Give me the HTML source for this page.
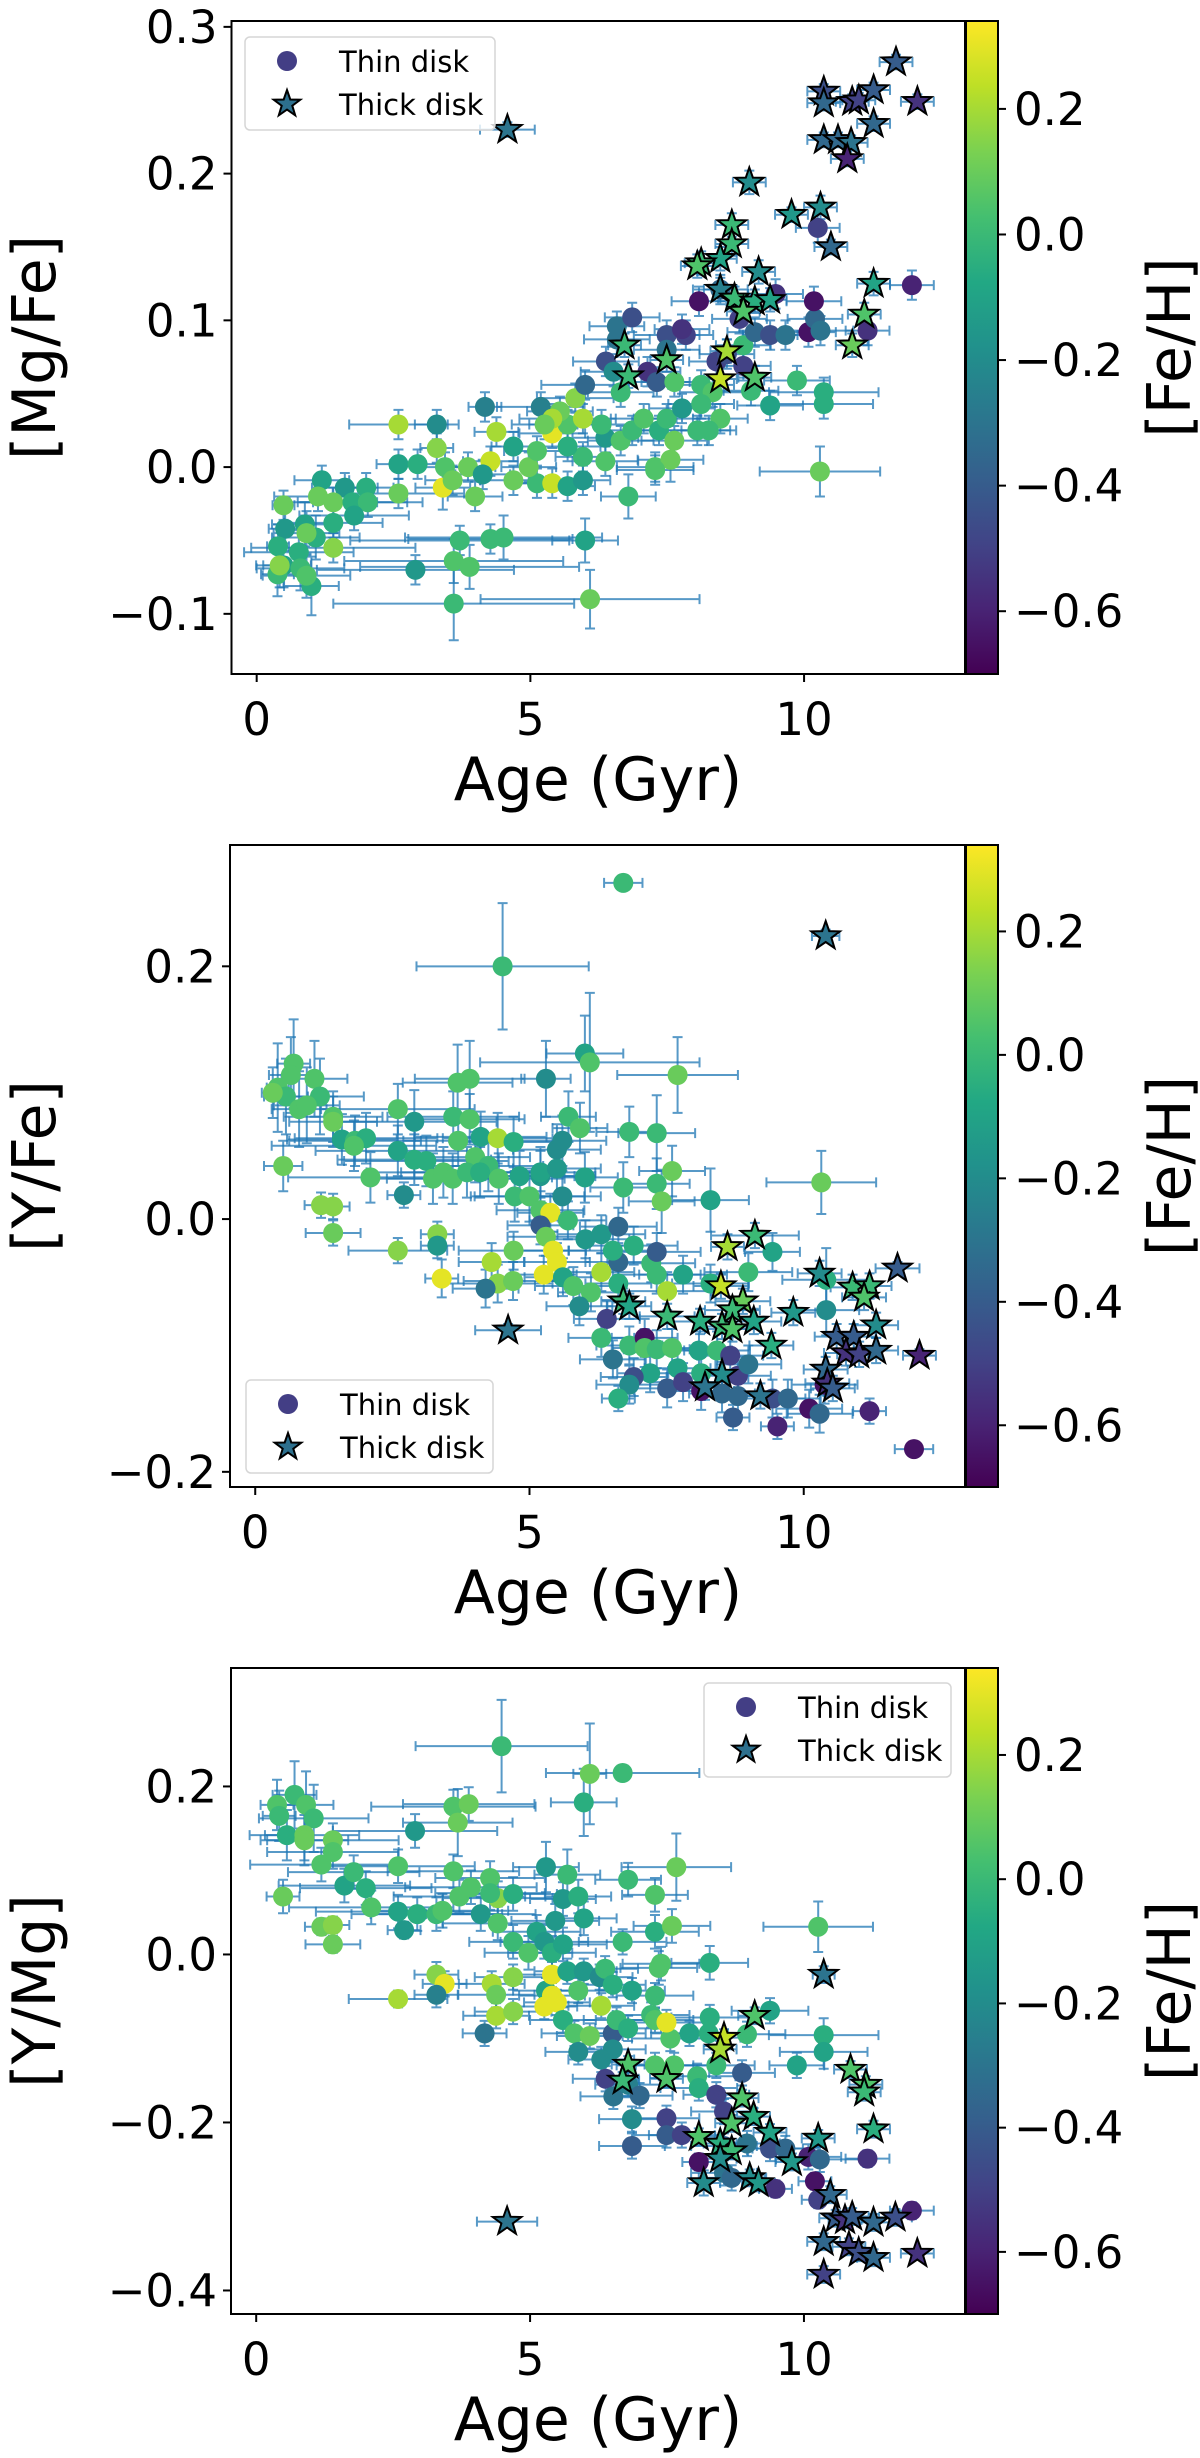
<!DOCTYPE html>
<html><head><meta charset="utf-8"><style>
html,body{margin:0;padding:0;background:#fff;}
svg{display:block;font-family:"DejaVu Sans","Liberation Sans",sans-serif;}
</style></head><body>
<svg id="fig" width="1200" height="2458" viewBox="0 0 1200 2458" xmlns="http://www.w3.org/2000/svg">
<defs>
<linearGradient id="vir" x1="0" y1="1" x2="0" y2="0">
<stop offset="0" stop-color="#440154"/><stop offset="0.1" stop-color="#482475"/><stop offset="0.2" stop-color="#414487"/><stop offset="0.3" stop-color="#355f8d"/><stop offset="0.4" stop-color="#2a788e"/><stop offset="0.5" stop-color="#21918c"/><stop offset="0.6" stop-color="#22a884"/><stop offset="0.7" stop-color="#44bf70"/><stop offset="0.8" stop-color="#7ad151"/><stop offset="0.9" stop-color="#bddf26"/><stop offset="1" stop-color="#fde725"/>
</linearGradient>
</defs>
</svg>
<script>
// ---- data: [age, value, feh, ageErr, valErr] ----
const xTicks=[0,5,10];
const xTickLabels=["0","5","10"];
const cbTicks=[-0.6,-0.4,-0.2,0.0,0.2];
const cbTickLabels=["\u22120.6","\u22120.4","\u22120.2","0.0","0.2"];
const yTicksTop=[-0.1,0,0.1,0.2,0.3];
const yTickLabelsTop=["\u22120.1","0.0","0.1","0.2","0.3"];
const yTicksMid=[-0.2,0,0.2];
const yTickLabelsMid=["\u22120.2","0.0","0.2"];
const yTicksBot=[-0.4,-0.2,0,0.2];
const yTickLabelsBot=["\u22120.4","\u22120.2","0.0","0.2"];
const fehRange=[-0.70,0.34];

const thinTop=[[2.59,0.029,0.2,0.9,0.01],[3.29,0.029,-0.2,0.4,0.01],[3.29,0.013,0.15,0.3,0.01],[4.17,0.041,-0.25,0.3,0.01],[5.19,0.041,-0.25,0.8,0.01],[4.38,0.024,0.2,0.4,0.01],[4.69,0.014,-0.1,0.4,0.01],[4.27,0.004,0.25,0.5,0.01],[2.59,0.002,-0.1,0.4,0.01],[2.94,0.002,-0.05,0.5,0.01],[3.44,0,0.05,0.5,0.01],[3.86,0,0.1,0.5,0.01],[2.59,-0.018,0.1,1.2,0.01],[3.4,-0.014,0.3,0.5,0.015],[3.99,-0.02,0.1,0.5,0.01],[3.58,-0.009,0.1,0.5,0.01],[4.13,-0.005,-0.15,0.5,0.01],[4.69,-0.009,0.1,0.6,0.01],[5.12,-0.011,0.0,0.5,0.01],[5.4,-0.011,0.25,0.6,0.01],[5.68,-0.013,-0.1,0.5,0.01],[5.96,-0.009,-0.15,0.5,0.01],[4.97,0,0.1,0.5,0.01],[5.12,0.011,0.05,0.6,0.01],[5.4,0.023,0.3,0.6,0.01],[5.68,0.029,0.05,0.7,0.01],[5.96,0.033,0.2,0.6,0.01],[5.82,0.047,0.15,0.7,0.01],[5.54,0.038,0.1,0.6,0.01],[5.4,0.033,0.2,0.6,0.01],[5.26,0.029,0.1,0.6,0.01],[5.96,0.007,0.0,0.5,0.01],[5.68,0.014,-0.05,0.6,0.01],[6.37,0.004,0.05,0.6,0.01],[6.37,0.02,-0.15,0.6,0.01],[6.3,0.029,0.0,0.6,0.01],[6.65,0.018,0.05,0.6,0.01],[6.86,0.025,0.0,0.6,0.01],[7.07,0.033,0.05,0.6,0.01],[7.35,0.025,-0.05,0.6,0.01],[7.49,0.033,0.0,0.6,0.01],[7.63,0.018,0.1,0.6,0.01],[7.28,0,0.05,0.7,0.01],[7.56,0.005,0.1,0.6,0.015],[6.79,-0.02,0.0,0.5,0.015],[6.0,0.056,-0.35,0.8,0.01],[6.38,0.072,-0.45,0.6,0.01],[6.52,0.065,-0.2,0.6,0.01],[6.65,0.051,0.0,0.6,0.01],[6.58,0.096,-0.3,0.5,0.01],[6.58,0.087,-0.3,0.6,0.01],[6.86,0.102,-0.45,0.5,0.01],[7.14,0.065,-0.55,0.6,0.01],[7.49,0.09,-0.45,0.6,0.01],[7.49,0.08,-0.3,0.6,0.01],[7.84,0.09,-0.5,0.5,0.01],[7.77,0.094,-0.55,0.5,0.01],[7.31,0.058,-0.4,0.6,0.01],[7.63,0.058,0.05,0.6,0.01],[8.12,0.056,0.0,0.6,0.01],[8.33,0.051,0.05,0.6,0.01],[8.12,0.043,0.0,0.6,0.01],[8.47,0.033,0.05,0.5,0.01],[8.26,0.025,0.0,0.5,0.01],[8.05,0.025,0.0,0.6,0.01],[7.77,0.04,-0.15,0.6,0.01],[8.08,0.113,-0.65,0.5,0.01],[8.47,0.121,-0.35,0.5,0.01],[8.82,0.101,-0.5,0.5,0.01],[8.89,0.083,0.0,0.5,0.01],[8.89,0.069,-0.5,0.5,0.01],[8.4,0.072,-0.5,0.5,0.01],[9.03,0.052,0.0,0.5,0.01],[9.38,0.042,-0.1,0.6,0.01],[9.1,0.092,-0.35,0.5,0.01],[9.38,0.09,-0.45,0.5,0.01],[9.66,0.09,-0.3,0.5,0.01],[9.48,0.118,-0.55,0.5,0.01],[10.08,0.092,-0.65,0.5,0.01],[10.2,0.101,-0.35,0.5,0.01],[10.3,0.093,-0.3,0.6,0.01],[10.18,0.113,-0.65,0.5,0.01],[9.87,0.059,0.0,0.6,0.01],[10.36,0.051,-0.05,1.0,0.01],[10.36,0.043,-0.05,0.9,0.01],[10.25,0.163,-0.5,0.4,0.01],[10.29,-0.003,0.1,1.1,0.017],[11.16,0.093,-0.55,0.4,0.01],[11.97,0.124,-0.6,0.4,0.01],[8.59,0.077,-0.45,0.5,0.01],
[0.49,-0.026,0.1,0.2,0.01],[1.19,-0.009,-0.1,0.5,0.01],[1.61,-0.014,-0.15,0.6,0.01],[2.0,-0.014,-0.05,0.5,0.01],[1.12,-0.02,0.1,0.8,0.01],[1.4,-0.024,0.1,0.8,0.01],[1.75,-0.024,-0.05,1.0,0.01],[2.03,-0.024,0.0,1.0,0.01],[1.4,-0.038,-0.05,0.9,0.01],[1.78,-0.033,-0.1,1.0,0.01],[0.52,-0.042,-0.15,0.3,0.015],[0.88,-0.039,-0.1,0.6,0.015],[1.08,-0.048,-0.05,0.8,0.015],[0.91,-0.045,0.1,0.6,0.015],[0.39,-0.054,-0.05,0.2,0.015],[1.4,-0.055,0.15,1.5,0.01],[0.77,-0.058,-0.05,1.0,0.015],[0.49,-0.067,-0.1,0.5,0.015],[0.8,-0.069,0.0,0.8,0.015],[0.38,-0.073,0.0,0.3,0.015],[1.0,-0.081,-0.05,0.5,0.02],[0.91,-0.074,0.05,0.8,0.015],[0.42,-0.067,0.15,0.3,0.015],[2.9,-0.07,-0.15,1.8,0.01],[3.6,-0.064,0.05,2.0,0.015],[3.89,-0.068,0.05,2.0,0.015],[3.71,-0.05,0.0,2.0,0.01],[4.27,-0.049,0.0,1.5,0.01],[4.51,-0.048,0.0,1.8,0.015],[3.6,-0.093,0.0,2.2,0.025],[6.0,-0.05,-0.1,0.6,0.015],[6.09,-0.09,0.1,2.0,0.02],[7.28,-0.002,0.05,0.7,0.01]];

const thickTop=[[4.58,0.23,-0.3,0.5,0.005],[11.68,0.276,-0.4,0.3,0.005],[10.36,0.256,-0.45,0.3,0.005],[10.36,0.248,-0.35,0.3,0.005],[10.88,0.249,-0.5,0.3,0.005],[11.0,0.25,-0.5,0.3,0.005],[11.27,0.257,-0.4,0.3,0.005],[12.07,0.249,-0.55,0.3,0.005],[11.27,0.234,-0.35,0.3,0.005],[10.36,0.223,-0.35,0.3,0.005],[10.62,0.223,-0.35,0.3,0.005],[10.86,0.221,-0.3,0.3,0.005],[10.79,0.21,-0.6,0.3,0.005],[9.0,0.194,-0.2,0.3,0.008],[9.77,0.172,-0.15,0.3,0.005],[10.3,0.177,-0.2,0.3,0.008],[10.49,0.15,-0.35,0.3,0.005],[8.68,0.165,0.0,0.3,0.008],[8.68,0.152,0.0,0.3,0.008],[8.47,0.142,-0.1,0.3,0.008],[8.12,0.139,0.0,0.3,0.008],[8.05,0.137,0.05,0.3,0.008],[9.17,0.133,-0.2,0.3,0.008],[8.47,0.121,-0.25,0.3,0.008],[8.73,0.115,0.0,0.3,0.008],[9.1,0.113,-0.05,0.3,0.008],[9.38,0.114,-0.1,0.3,0.008],[8.89,0.106,0.05,0.3,0.008],[11.27,0.125,-0.1,0.3,0.008],[11.1,0.104,0.05,0.3,0.008],[10.88,0.083,0.1,0.3,0.008],[6.72,0.083,0.0,0.3,0.008],[6.79,0.062,0.0,0.3,0.008],[7.49,0.073,0.05,0.3,0.008],[8.59,0.079,0.2,0.3,0.008],[8.47,0.06,0.25,0.3,0.008],[9.1,0.061,0.05,0.3,0.008]];

const thinMid=[[6.71,0.266,0.0,0.35,0.005],[4.51,0.200,0.0,1.57,0.05],[6.01,0.131,-0.1,0.7,0.03],[6.1,0.124,0.05,2.0,0.055],[7.7,0.114,0.1,1.1,0.03],[5.3,0.111,-0.2,0.45,0.03],[0.7,0.123,0.05,0.3,0.035],[0.41,0.104,0.05,0.2,0.035],[0.56,0.097,0.0,0.4,0.03],[0.8,0.087,0.05,0.5,0.03],[1.08,0.111,0.05,0.6,0.03],[1.18,0.097,0.0,0.8,0.03],[0.94,0.09,0.05,0.6,0.03],[0.32,0.1,0.1,0.2,0.02],[0.65,0.114,0.05,0.4,0.03],[1.42,0.081,0.05,0.9,0.02],[1.42,0.077,0.1,0.8,0.02],[1.58,0.063,-0.1,1.0,0.02],[1.82,0.062,0.0,1.2,0.02],[2.02,0.064,-0.05,1.3,0.02],[1.8,0.058,0.05,1.5,0.02],[0.51,0.042,0.1,0.35,0.02],[1.2,0.011,0.15,0.3,0.01],[1.42,0.01,0.15,0.3,0.01],[1.42,-0.011,0.1,0.5,0.01],[2.1,0.033,0.05,1.5,0.02],[2.6,0.087,0.05,1.4,0.02],[2.9,0.077,-0.15,1.5,0.025],[2.6,0.054,-0.1,1.5,0.02],[2.9,0.047,-0.05,1.4,0.02],[3.12,0.046,-0.05,1.5,0.02],[2.71,0.019,-0.2,0.3,0.01],[2.6,-0.025,0.15,0.9,0.01],[3.32,-0.012,0.15,0.3,0.01],[3.32,-0.021,-0.15,0.3,0.01],[3.4,-0.047,0.3,0.3,0.015],[3.69,0.108,0.05,1.0,0.03],[3.91,0.111,0.05,1.0,0.03],[3.61,0.081,0.0,1.2,0.02],[3.91,0.079,0.05,1.0,0.02],[3.7,0.062,0.05,1.0,0.02],[4.11,0.065,-0.1,1.2,0.02],[4.42,0.064,0.2,1.0,0.02],[4.71,0.061,-0.05,1.0,0.02],[4.01,0.049,0.05,1.0,0.02],[4.25,0.042,0.0,1.0,0.02],[3.24,0.032,0.05,1.2,0.02],[3.43,0.037,0.05,1.4,0.02],[3.6,0.032,0.05,1.2,0.02],[3.86,0.037,0.0,1.2,0.02],[4.1,0.037,-0.05,1.2,0.02],[4.44,0.032,0.05,1.2,0.02],[4.73,0.018,0.0,0.8,0.02],[4.82,0.034,-0.1,1.0,0.02],[5.0,0.018,0.05,1.0,0.02],[5.2,0.034,-0.15,1.0,0.02],[5.2,0.037,-0.1,1.0,0.02],[5.5,0.04,-0.15,0.8,0.02],[5.5,0.055,-0.2,0.8,0.02],[5.6,0.062,-0.2,0.8,0.02],[5.71,0.081,0.0,0.5,0.02],[5.92,0.072,0.05,0.5,0.02],[6.01,0.033,-0.1,0.6,0.02],[5.6,0.018,-0.2,0.7,0.02],[5.2,0.007,0.05,0.8,0.015],[5.38,0.005,0.3,0.6,0.015],[5.7,-0.001,0.0,0.7,0.015],[5.2,-0.005,-0.4,0.6,0.015],[5.3,-0.014,0.1,0.7,0.015],[5.43,-0.025,0.3,0.6,0.015],[5.5,-0.034,0.3,0.6,0.015],[5.26,-0.044,0.3,0.6,0.015],[4.71,-0.025,0.1,1.0,0.015],[4.31,-0.034,0.2,0.6,0.015],[4.42,-0.051,0.15,1.0,0.015],[4.7,-0.049,0.1,0.9,0.015],[4.2,-0.055,-0.3,0.6,0.015],[5.61,-0.046,-0.1,0.7,0.015],[5.8,-0.053,0.05,0.7,0.015],[6.12,-0.058,0.05,0.6,0.015],[5.91,-0.069,-0.2,0.6,0.015],[6.02,-0.016,-0.15,0.8,0.015],[6.31,-0.012,-0.15,0.8,0.015],[6.62,-0.006,-0.35,0.7,0.015],[6.62,-0.034,-0.35,0.6,0.015],[6.52,-0.025,-0.05,0.8,0.015],[6.9,-0.021,-0.05,0.8,0.015],[6.31,-0.042,0.2,0.6,0.015],[6.62,-0.051,-0.05,0.6,0.015],[6.82,0.069,0.0,0.6,0.02],[6.71,0.025,0.0,0.6,0.02],[7.32,0.068,0.0,0.7,0.03],[7.32,0.028,0.0,0.6,0.02],[7.41,0.014,0.1,0.6,0.025],[7.6,0.038,0.1,0.6,0.02],[7.22,-0.035,0.0,0.8,0.015],[7.32,-0.044,0.0,0.8,0.015],[7.32,-0.026,-0.4,0.8,0.015],[7.51,-0.057,0.2,0.8,0.015],[7.8,-0.044,-0.1,0.8,0.015],[8.3,0.015,-0.1,0.7,0.025],[8.3,-0.051,-0.05,0.7,0.015],[8.99,-0.042,0.0,0.8,0.015],[9.43,-0.026,-0.1,0.5,0.015],[10.32,0.029,0.1,1.0,0.025],[10.41,-0.048,-0.05,0.8,0.025],[10.41,-0.072,-0.2,0.6,0.02],[6.41,-0.079,-0.5,0.6,0.015],[6.31,-0.094,0.0,0.6,0.015],[6.52,-0.111,-0.3,0.6,0.015],[6.82,-0.1,0.0,0.6,0.015],[7.1,-0.094,-0.65,0.6,0.015],[7.1,-0.102,0.05,0.6,0.015],[7.32,-0.103,0.0,0.6,0.015],[7.6,-0.102,0.05,0.6,0.015],[7.2,-0.122,-0.1,0.6,0.015],[7.7,-0.118,-0.1,0.6,0.015],[6.9,-0.125,-0.45,0.6,0.015],[6.82,-0.131,-0.2,0.6,0.015],[6.62,-0.142,-0.05,0.3,0.01],[7.51,-0.134,-0.4,0.6,0.015],[7.8,-0.129,-0.5,0.6,0.015],[8.09,-0.104,-0.1,0.6,0.015],[8.42,-0.104,0.0,0.6,0.015],[8.66,-0.108,-0.5,0.6,0.015],[8.13,-0.122,-0.05,0.6,0.015],[8.8,-0.124,-0.5,0.6,0.015],[8.99,-0.115,-0.3,0.6,0.015],[8.13,-0.136,-0.65,0.6,0.015],[8.51,-0.138,-0.35,0.6,0.015],[8.8,-0.14,-0.35,0.6,0.015],[8.71,-0.157,-0.4,0.3,0.01],[9.43,-0.142,-0.45,0.6,0.015],[9.71,-0.142,-0.35,0.6,0.015],[9.52,-0.164,-0.6,0.3,0.01],[10.1,-0.15,-0.65,0.6,0.015],[10.29,-0.154,-0.35,0.6,0.015],[11.2,-0.152,-0.6,0.3,0.01],[12.01,-0.182,-0.65,0.35,0.005],[10.38,-0.131,-0.65,0.6,0.015]];

const thickMid=[[4.61,-0.088,-0.3,0.6,0.005],[8.61,-0.022,0.2,0.3,0.01],[9.11,-0.013,0.0,0.8,0.01],[8.49,-0.053,0.25,0.5,0.01],[8.89,-0.065,0.1,0.5,0.01],[8.7,-0.072,0.0,0.5,0.01],[8.51,-0.085,0.0,0.5,0.01],[8.7,-0.087,0.05,0.5,0.01],[9.09,-0.081,-0.1,0.5,0.01],[8.11,-0.081,-0.05,0.5,0.01],[7.51,-0.077,0.0,0.5,0.01],[6.71,-0.065,0.0,0.4,0.01],[6.82,-0.069,-0.1,0.4,0.01],[9.41,-0.1,-0.05,0.4,0.01],[9.81,-0.074,-0.15,0.4,0.01],[10.29,-0.043,-0.2,0.4,0.01],[10.89,-0.054,0.0,0.4,0.01],[11.2,-0.053,0.0,0.4,0.01],[11.1,-0.062,0.05,0.4,0.01],[11.71,-0.039,-0.4,0.4,0.005],[11.32,-0.084,-0.2,0.4,0.01],[10.6,-0.093,-0.4,0.4,0.01],[10.91,-0.093,-0.4,0.4,0.01],[10.77,-0.106,-0.55,0.4,0.01],[11.01,-0.107,-0.5,0.4,0.01],[11.32,-0.104,-0.35,0.4,0.01],[12.11,-0.108,-0.6,0.3,0.005],[10.4,-0.119,-0.35,0.4,0.01],[10.43,-0.13,-0.55,0.4,0.01],[10.53,-0.134,-0.4,0.4,0.01],[8.51,-0.123,-0.2,0.4,0.01],[8.2,-0.133,-0.3,0.4,0.01],[9.21,-0.14,-0.3,0.4,0.01],[10.4,0.224,-0.3,0.25,0.005]];

const thinBot=[[4.48,0.248,0.0,1.57,0.055],[6.09,0.215,0.1,0.3,0.06],[6.69,0.216,0.0,1.4,0.005],[5.98,0.181,-0.05,0.6,0.04],[3.6,0.176,0.05,1.5,0.02],[3.88,0.179,0.1,1.2,0.02],[3.68,0.157,0.1,1.0,0.04],[2.9,0.147,-0.15,1.5,0.02],[0.38,0.178,0.05,0.3,0.03],[0.7,0.19,0.0,0.4,0.04],[0.42,0.165,0.0,0.3,0.03],[0.56,0.142,-0.05,0.4,0.03],[0.91,0.178,0.05,0.5,0.04],[1.05,0.162,0.0,1.0,0.04],[0.88,0.142,0.1,1.0,0.03],[0.88,0.136,0.1,0.8,0.03],[1.4,0.136,0.1,1.2,0.02],[1.4,0.122,0.05,1.2,0.02],[1.19,0.107,0.05,1.3,0.02],[1.61,0.082,-0.1,1.2,0.02],[1.78,0.098,0.0,1.2,0.02],[2.0,0.079,-0.05,1.2,0.02],[2.1,0.056,0.05,1.5,0.02],[0.49,0.069,0.1,0.3,0.02],[1.19,0.033,0.1,0.3,0.01],[1.4,0.035,0.15,0.3,0.01],[1.4,0.012,0.1,0.5,0.01],[2.59,0.105,0.05,1.4,0.02],[2.59,0.051,-0.1,1.5,0.02],[2.7,0.029,-0.15,0.3,0.01],[2.94,0.048,-0.05,1.2,0.02],[3.29,0.048,0.0,1.2,0.02],[3.4,0.052,0.05,1.2,0.02],[3.6,0.099,0.05,1.2,0.02],[3.71,0.069,0.05,1.2,0.02],[3.92,0.08,0.05,1.2,0.02],[4.1,0.048,-0.15,1.0,0.02],[4.27,0.091,0.05,1.0,0.02],[4.41,0.067,0.15,1.0,0.02],[4.69,0.072,-0.05,0.8,0.02],[4.27,0.073,0.0,1.0,0.02],[4.41,0.037,0.05,1.0,0.02],[4.69,0.015,0.0,0.8,0.02],[4.97,0.002,0.05,0.8,0.02],[5.12,0.027,-0.1,0.8,0.02],[5.26,0.015,-0.15,0.8,0.02],[5.4,0.002,-0.05,0.8,0.02],[5.29,0.104,-0.15,0.6,0.03],[5.68,0.095,0.0,0.6,0.03],[5.6,0.066,-0.15,0.6,0.02],[5.88,0.069,-0.05,0.6,0.02],[5.98,0.043,-0.1,0.6,0.02],[5.46,0.04,-0.15,0.8,0.02],[5.6,0.012,-0.1,0.8,0.02],[3.29,-0.024,0.15,0.4,0.015],[3.44,-0.035,0.3,0.4,0.015],[3.29,-0.048,-0.25,0.4,0.015],[2.59,-0.053,0.2,0.9,0.01],[4.3,-0.035,0.2,0.6,0.015],[4.38,-0.048,0.1,0.7,0.015],[4.69,-0.027,0.15,0.7,0.015],[4.38,-0.073,0.2,0.6,0.015],[4.69,-0.068,0.15,0.7,0.015],[4.17,-0.094,-0.3,0.4,0.015],[5.29,-0.043,-0.1,0.6,0.015],[5.4,-0.024,0.3,0.6,0.015],[5.4,-0.049,0.3,0.6,0.015],[5.26,-0.062,0.3,0.6,0.015],[5.49,-0.057,0.3,0.6,0.015],[5.68,-0.02,-0.1,0.6,0.015],[5.98,-0.02,-0.15,0.6,0.015],[6.27,-0.027,-0.2,0.6,0.015],[5.88,-0.043,0.05,0.6,0.015],[6.3,-0.061,0.2,0.6,0.015],[5.6,-0.078,-0.05,0.6,0.015],[5.81,-0.094,0.05,0.6,0.015],[6.09,-0.097,0.1,0.6,0.015],[5.88,-0.116,-0.2,0.6,0.015],[6.37,-0.017,0.0,0.6,0.015],[6.51,-0.036,-0.05,0.6,0.015],[6.86,-0.043,-0.1,0.6,0.015],[6.51,-0.094,-0.4,0.6,0.015],[6.58,-0.078,0.0,0.6,0.015],[6.79,-0.088,-0.05,0.6,0.015],[6.51,-0.113,-0.2,0.6,0.015],[6.3,-0.125,-0.2,0.6,0.015],[6.69,0.015,0.0,0.8,0.015],[7.28,0.027,-0.05,0.8,0.02],[7.39,-0.011,0.05,0.7,0.02],[7.35,-0.016,0.05,0.7,0.02],[7.28,-0.049,0.0,0.7,0.015],[7.21,-0.072,0.0,0.7,0.015],[7.28,-0.078,0.05,0.7,0.015],[7.56,-0.1,0.05,0.7,0.015],[7.49,-0.081,0.3,0.7,0.015],[7.63,-0.132,0.05,0.7,0.015],[7.28,-0.132,0.05,0.7,0.015],[6.79,0.089,0.0,0.6,0.02],[7.28,0.071,0.05,0.6,0.02],[7.67,0.104,0.1,1.0,0.04],[7.59,0.034,0.1,0.7,0.02],[8.28,-0.01,-0.05,0.7,0.02],[8.28,-0.075,-0.05,0.7,0.015],[7.91,-0.094,-0.1,0.7,0.015],[8.26,-0.094,-0.05,0.7,0.015],[8.4,-0.132,0.0,0.7,0.015],[8.05,-0.145,0.0,0.7,0.015],[8.08,-0.159,-0.05,0.7,0.015],[8.96,-0.095,0.0,0.7,0.015],[9.38,-0.067,-0.1,0.7,0.015],[9.87,-0.132,-0.1,0.5,0.015],[10.36,-0.096,-0.05,1.0,0.02],[10.36,-0.116,-0.1,0.8,0.02],[10.26,0.033,0.05,1.0,0.03],[6.38,-0.148,-0.5,0.6,0.015],[6.52,-0.169,-0.3,0.6,0.015],[6.79,-0.155,-0.25,0.6,0.015],[7.0,-0.168,-0.35,0.6,0.015],[6.86,-0.196,-0.2,0.6,0.015],[6.86,-0.228,-0.4,0.6,0.015],[7.49,-0.195,-0.5,0.6,0.015],[7.49,-0.215,-0.4,0.6,0.015],[7.77,-0.215,-0.5,0.6,0.015],[8.4,-0.167,-0.5,0.6,0.015],[8.54,-0.187,-0.5,0.6,0.015],[8.87,-0.141,-0.4,0.6,0.015],[8.54,-0.228,-0.4,0.6,0.015],[8.96,-0.225,-0.3,0.6,0.015],[9.38,-0.231,-0.45,0.6,0.015],[9.66,-0.231,-0.35,0.6,0.015],[8.08,-0.247,-0.65,0.3,0.01],[8.54,-0.26,-0.3,0.6,0.015],[8.68,-0.266,-0.35,0.6,0.015],[9.48,-0.279,-0.55,0.3,0.01],[10.08,-0.241,-0.6,0.6,0.015],[10.29,-0.244,-0.35,0.8,0.015],[10.2,-0.27,-0.65,0.3,0.01],[10.26,-0.292,-0.5,0.3,0.01],[11.16,-0.243,-0.55,0.4,0.01],[11.97,-0.305,-0.6,0.4,0.01]];

const thickBot=[[4.58,-0.318,-0.3,0.55,0.005],[10.36,-0.024,-0.3,0.2,0.01],[9.1,-0.073,0.05,0.3,0.01],[8.54,-0.099,0.25,0.3,0.01],[8.47,-0.113,0.2,0.3,0.01],[6.79,-0.131,0.05,0.3,0.01],[6.69,-0.15,0.0,0.3,0.01],[7.49,-0.148,0.05,0.3,0.01],[8.87,-0.171,0.05,0.3,0.01],[9.08,-0.193,-0.05,0.3,0.01],[8.68,-0.201,0.05,0.3,0.01],[9.38,-0.212,-0.1,0.3,0.01],[8.08,-0.217,0.05,0.3,0.01],[8.47,-0.225,-0.05,0.3,0.01],[8.68,-0.234,0.0,0.3,0.01],[8.47,-0.243,-0.2,0.3,0.01],[9.78,-0.247,-0.15,0.3,0.01],[10.26,-0.219,-0.15,0.3,0.01],[10.85,-0.137,0.05,0.3,0.01],[11.13,-0.155,0.05,0.3,0.01],[11.1,-0.164,0.0,0.3,0.01],[11.27,-0.208,-0.05,0.3,0.01],[8.17,-0.272,-0.2,0.3,0.015],[9.01,-0.266,-0.2,0.3,0.01],[9.17,-0.272,-0.15,0.3,0.01],[10.48,-0.286,-0.35,0.3,0.01],[10.58,-0.314,-0.4,0.3,0.01],[10.75,-0.316,-0.55,0.3,0.01],[10.88,-0.312,-0.4,0.3,0.01],[11.27,-0.319,-0.35,0.3,0.01],[11.67,-0.313,-0.45,0.3,0.01],[10.36,-0.342,-0.35,0.3,0.01],[10.82,-0.348,-0.5,0.3,0.01],[11.0,-0.355,-0.45,0.3,0.01],[11.27,-0.361,-0.35,0.3,0.01],[12.07,-0.356,-0.55,0.3,0.005],[10.36,-0.381,-0.5,0.3,0.01]];

// ---- layout ----
const NS="http://www.w3.org/2000/svg";
const svg=document.getElementById('fig');
const stops=[[68,1,84],[72,36,117],[65,68,135],[53,95,141],[42,120,142],[33,145,140],[34,168,132],[68,191,112],[122,209,81],[189,223,38],[253,231,37]];
function viridis(v){
  let t=(v-fehRange[0])/(fehRange[1]-fehRange[0]);t=Math.max(0,Math.min(1,t))*10;
  const i=Math.min(9,Math.floor(t)),f=t-i,a=stops[i],b=stops[i+1];
  return 'rgb('+a.map((c,k)=>Math.round(c+(b[k]-c)*f)).join(',')+')';
}
function mk(tag,attrs,parent){const e=document.createElementNS(NS,tag);for(const k in attrs)e.setAttribute(k,attrs[k]);(parent||svg).appendChild(e);return e;}
function starPath(cx,cy,R){const r=R*0.4;let d='';for(let i=0;i<10;i++){const rad=i%2?r:R;const a=-Math.PI/2+i*Math.PI/5;d+=(i?'L':'M')+(cx+rad*Math.cos(a)).toFixed(1)+','+(cy+rad*Math.sin(a)).toFixed(1);}return d+'Z';}

const panels=[
 {name:'mgfe',label:'[Mg/Fe]',L:231.5,R:965,T:21,B:674,y0:-0.141,y1:0.304,yt:yTicksTop,ytl:yTickLabelsTop,thin:thinTop,thick:thickTop,leg:[245,37,250,93]},
 {name:'yfe',label:'[Y/Fe]',L:230,R:965,T:845,B:1487,y0:-0.212,y1:0.296,yt:yTicksMid,ytl:yTickLabelsMid,thin:thinMid,thick:thickMid,leg:[246,1380,247,93]},
 {name:'ymg',label:'[Y/Mg]',L:231,R:965,T:1668,B:2314,y0:-0.428,y1:0.341,yt:yTicksBot,ytl:yTickLabelsBot,thin:thinBot,thick:thickBot,leg:[704,1683,247,94]}
];
const X0=-0.46,X1=12.94,CBL=966,CBR=998;

panels.forEach(p=>{
  const g=mk('g',{});
  
  
  const sx=v=>p.L+(v-X0)/(X1-X0)*(p.R-p.L);
  const sy=v=>p.B-(v-p.y0)/(p.y1-p.y0)*(p.B-p.T);
  const cy=v=>p.B-(v-fehRange[0])/(fehRange[1]-fehRange[0])*(p.B-p.T);
  const clip='clip-'+p.name;
  const cp=mk('clipPath',{id:clip},g);mk('rect',{x:p.L,y:p.T,width:p.R-p.L,height:p.B-p.T},cp);
  const data=mk('g',{'clip-path':'url(#'+clip+')'},g);
  
  
  // error bars
  const eg=mk('g',{stroke:'#1f77b4','stroke-width':2,'stroke-opacity':0.75,fill:'none'},data);
  
  
  p.thin.concat(p.thick).forEach(d=>{
    const x=sx(d[0]),y=sy(d[1]),xa=sx(d[0]-d[3]),xb=sx(d[0]+d[3]),ya=sy(d[1]-d[4]),yb=sy(d[1]+d[4]);
    const path='M'+xa+','+y+'H'+xb+'M'+x+','+ya+'V'+yb+'M'+xa+','+(y-5)+'V'+(y+5)+'M'+xb+','+(y-5)+'V'+(y+5)+'M'+(x-5)+','+ya+'H'+(x+5)+'M'+(x-5)+','+yb+'H'+(x+5);
    const e=mk('path',{d:path},eg);
    
    
  });
  p.thin.forEach(d=>{
    const c=mk('circle',{cx:sx(d[0]),cy:sy(d[1]),r:10,fill:viridis(d[2])},data);
    
    
  });
  p.thick.forEach(d=>{
    const s=mk('path',{d:starPath(sx(d[0]),sy(d[1]),15),fill:viridis(d[2]),stroke:'#000','stroke-width':2,'stroke-linejoin':'miter'},data);
    
    
  });
  // axes frame
  const fr=mk('rect',{x:p.L,y:p.T,width:p.R-p.L,height:p.B-p.T,fill:'none',stroke:'#000','stroke-width':2},g);
  
  
  // x ticks
  xTicks.forEach((t,i)=>{
    mk('line',{x1:sx(t),x2:sx(t),y1:p.B,y2:p.B+8,stroke:'#000','stroke-width':2},g);
    const tx=mk('text',{x:sx(t),y:p.B+61,'font-size':45,'text-anchor':'middle'},g);
    tx.textContent=xTickLabels[i];
    
    
  });
  p.yt.forEach((t,i)=>{
    mk('line',{x1:p.L-8,x2:p.L,y1:sy(t),y2:sy(t),stroke:'#000','stroke-width':2},g);
    const tx=mk('text',{x:p.L-14,y:sy(t)+16,'font-size':45,'text-anchor':'end'},g);
    tx.textContent=p.ytl[i];
    
    
  });
  const xl=mk('text',{x:598,y:p.B+126,'font-size':60,'text-anchor':'middle'},g);
  xl.textContent='Age (Gyr)';
  
  
  const ym=(p.T+p.B)/2;
  const yl=mk('text',{x:0,y:0,'font-size':60,'text-anchor':'middle',transform:'translate(55,'+ym+') rotate(-90)'},g);
  yl.textContent=p.label;
  
  
  // colorbar
  const cb=mk('rect',{x:CBL,y:p.T,width:CBR-CBL,height:p.B-p.T,fill:'url(#vir)',stroke:'#000','stroke-width':2},g);
  
  
  cbTicks.forEach((t,i)=>{
    mk('line',{x1:CBR,x2:CBR+8,y1:cy(t),y2:cy(t),stroke:'#000','stroke-width':2},g);
    const tx=mk('text',{x:CBR+16,y:cy(t)+16,'font-size':45},g);
    tx.textContent=cbTickLabels[i];
    
    
  });
  const cl=mk('text',{x:0,y:0,'font-size':60,'text-anchor':'middle',transform:'translate(1190,'+ym+') rotate(-90)'},g);
  cl.textContent='[Fe/H]';
  
  
  // legend
  const [lx,ly,lw,lh]=p.leg;
  const lg=mk('g',{},g);
  
  
  mk('rect',{x:lx,y:ly,width:lw,height:lh,rx:5,fill:'#fff','fill-opacity':0.8,stroke:'#d6d6d6','stroke-width':1.5},lg);
  const c1=mk('circle',{cx:lx+42,cy:ly+24,r:10,fill:'#433e85'},lg);
  
  
  const t1=mk('text',{x:lx+94,y:ly+35,'font-size':29},lg);
  t1.textContent='Thin disk';
  
  
  const s2=mk('path',{d:starPath(lx+42,ly+67,14),fill:'#2d708e',stroke:'#000','stroke-width':2},lg);
  
  
  const t2=mk('text',{x:lx+94,y:ly+78,'font-size':29},lg);
  t2.textContent='Thick disk';
  
  
});
</script>
</body></html>
